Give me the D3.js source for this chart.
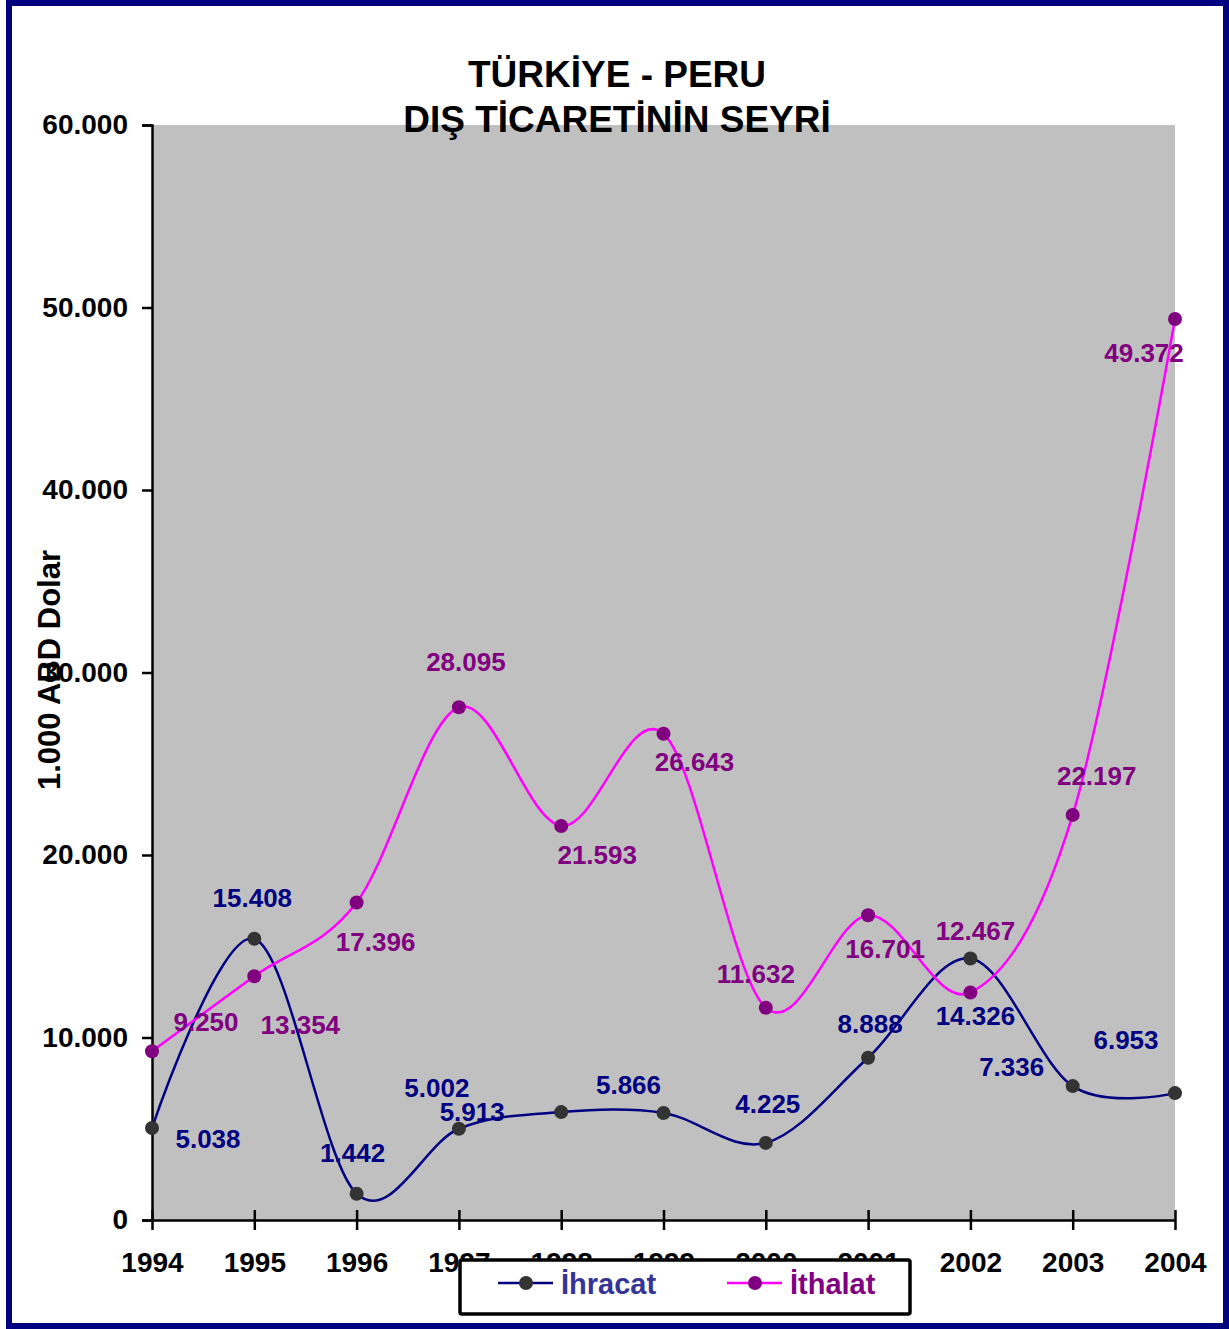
<!DOCTYPE html>
<html>
<head>
<meta charset="utf-8">
<script src="https://cdn.jsdelivr.net/npm/d3@7"></script>
<style>
  body { margin: 0; background: #fff; }
  svg text { font-family: Arial, "Liberation Sans", sans-serif; font-weight: bold; }
</style>
</head>
<body>
<svg id="svg" width="1229" height="1329"></svg>
<script>
// chart data
var years = ["1994", "1995", "1996", "1997", "1998", "1999", "2000", "2001", "2002", "2003", "2004"]
var ihracat = [5038, 15408, 1442, 5002, 5913, 5866, 4225, 8888, 14326, 7336, 6953]
var ithalat = [9250, 13354, 17396, 28095, 21593, 26643, 11632, 16701, 12467, 22197, 49372]
var yTicks = [0, 10000, 20000, 30000, 40000, 50000, 60000]
var titleLines = ["TÜRKİYE - PERU", "DIŞ TİCARETİNİN SEYRİ"]

// where each value label sits relative to its point
var ihracatLabelOffset = [[56, 11], [-2, -41], [-4, -41], [-22, -41], [-89, 0], [-35, -28], [2, -39], [2, -34], [5, 57], [-61, -19], [-49, -53]]
var ithalatLabelOffset = [[54, -29], [46, 49], [19, 39], [7, -45], [36, 29], [31, 28], [-10, -34], [17, 34], [5, -61], [24, -39], [-31, 34]]

var svg = d3.select("#svg")

// outer navy frame
svg.append("rect").attr("x", 9).attr("y", 3).attr("width", 1217).attr("height", 1323)
    .attr("fill", "#fff").attr("stroke", "#000080").attr("stroke-width", 6)

// plot box (careful: "top" is taken by window.top)
var pLeft = 152, pRight = 1175, pTop = 125, pBottom = 1220

var x = d3.scalePoint().domain(years).range([pLeft, pRight]).padding(0)
var y = d3.scaleLinear().domain([0, 60000]).range([pBottom, pTop])

// gray plot area
svg.append("rect").attr("x", pLeft).attr("y", pTop).attr("width", pRight - pLeft).attr("height", pBottom - pTop)
    .attr("fill", "#C0C0C0")

// title
svg.selectAll(".title").data(titleLines).enter().append("text")
    .attr("class", "title")
    .attr("x", 617).attr("y", function (d, i) { return 87 + i * 45 })
    .attr("text-anchor", "middle").attr("font-size", 37).attr("fill", "#000")
    .text(function (d) { return d })

// y axis
var fmt = function (v) { return v === 0 ? "0" : d3.format(",")(v).replace(/,/g, ".") }
var yAxis = svg.append("g").attr("transform", "translate(" + pLeft + ",0)")
    .call(d3.axisLeft(y).tickValues(yTicks).tickSize(10).tickPadding(14).tickFormat(fmt))
yAxis.select(".domain").attr("stroke", "#000").attr("stroke-width", 2.5)
yAxis.selectAll(".tick line").attr("stroke", "#000").attr("stroke-width", 2.5)
yAxis.selectAll(".tick text").attr("font-size", 28).attr("fill", "#000")
    .attr("font-family", "Arial, 'Liberation Sans', sans-serif")

// x axis, ticks crossing the axis line
var xAxis = svg.append("g").attr("transform", "translate(0," + pBottom + ")")
    .call(d3.axisBottom(x).tickSizeInner(10).tickSizeOuter(0).tickPadding(22))
xAxis.select(".domain").attr("stroke", "#000").attr("stroke-width", 2.5)
xAxis.selectAll(".tick line").attr("stroke", "#000").attr("stroke-width", 2.5).attr("y1", -10).attr("y2", 10)
xAxis.selectAll(".tick text").attr("font-size", 28).attr("fill", "#000")
    .attr("font-family", "Arial, 'Liberation Sans', sans-serif")

// y axis title
svg.append("text")
    .attr("transform", "translate(60,670) rotate(-90)")
    .attr("text-anchor", "middle").attr("font-size", 31).attr("fill", "#000")
    .text("1.000 ABD Dolar")

var line = d3.line()
    .x(function (d, i) { return x(years[i]) })
    .y(function (d) { return y(d) })
    .curve(d3.curveCatmullRom.alpha(0))

var series = [
    { name: "İhracat", values: ihracat, offs: ihracatLabelOffset, line: "#000080", marker: "#333333", label: "#000080", legend: "#333399" },
    { name: "İthalat", values: ithalat, offs: ithalatLabelOffset, line: "#FF00FF", marker: "#800080", label: "#800080", legend: "#800080" }
]

series.forEach(function (s) {
    svg.append("path").datum(s.values)
        .attr("d", line).attr("fill", "none")
        .attr("stroke", s.line).attr("stroke-width", 2.5)
})

series.forEach(function (s) {
    svg.selectAll(null).data(s.values).enter().append("circle")
        .attr("cx", function (d, i) { return x(years[i]) })
        .attr("cy", function (d) { return y(d) })
        .attr("r", 7).attr("fill", s.marker)
})

// value labels
series.forEach(function (s) {
    svg.selectAll(null).data(s.values).enter().append("text")
        .attr("x", function (d, i) { return x(years[i]) + s.offs[i][0] })
        .attr("y", function (d, i) { return y(d) + s.offs[i][1] })
        .attr("text-anchor", "middle").attr("dominant-baseline", "central")
        .attr("font-size", 26).attr("fill", s.label)
        .text(function (d) { return fmt(d) })
})

// legend box, sits on top of the x labels like in the original
var legend = svg.append("g")
legend.append("rect").attr("x", 460).attr("y", 1260).attr("width", 450).attr("height", 54)
    .attr("rx", 2).attr("fill", "#fff").attr("stroke", "#000").attr("stroke-width", 3.5)
series.forEach(function (s, i) {
    var lx = 498 + i * 229
    legend.append("line").attr("x1", lx).attr("x2", lx + 55).attr("y1", 1283).attr("y2", 1283)
        .attr("stroke", s.line).attr("stroke-width", 2.5)
    legend.append("circle").attr("cx", lx + 28).attr("cy", 1283).attr("r", 7).attr("fill", s.marker)
    legend.append("text").attr("x", lx + 63).attr("y", 1294)
        .attr("font-size", 29).attr("fill", s.legend).text(s.name)
})
</script>
</body>
</html>
